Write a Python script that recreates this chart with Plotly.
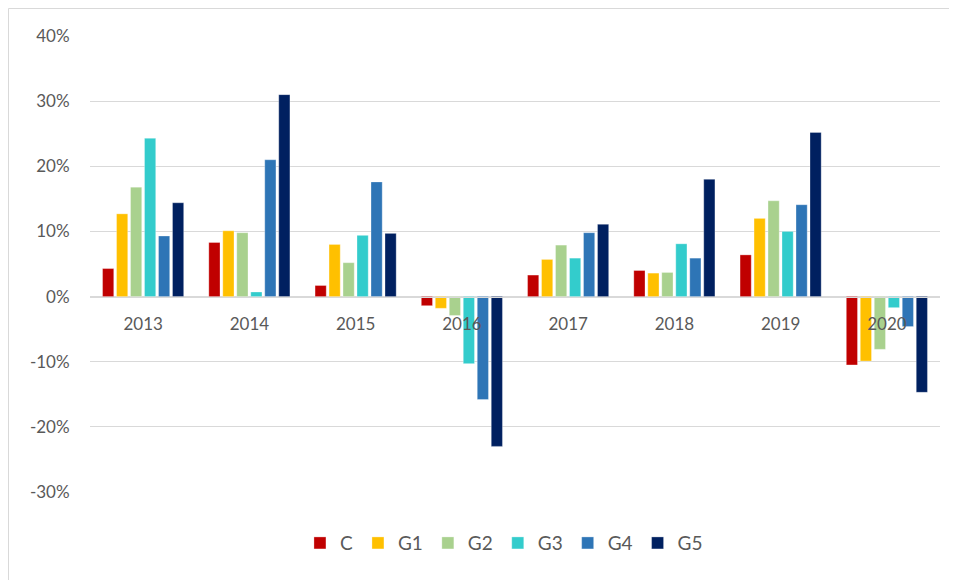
import plotly.graph_objects as go

years = ["2013", "2014", "2015", "2016", "2017", "2018", "2019", "2020"]
series_names = ["C", "G1", "G2", "G3", "G4", "G5"]
C  = [4.3, 8.3, 1.7, -1.4, 3.3, 4.0, 6.4, -10.5]
G1 = [12.7, 10.1, 8.0, -1.8, 5.7, 3.6, 12.0, -9.9]
G2 = [16.8, 9.8, 5.2, -2.9, 7.9, 3.7, 14.7, -8.1]
G3 = [24.3, 0.7, 9.4, -10.3, 5.9, 8.1, 10.0, -1.7]
G4 = [9.3, 21.0, 17.6, -15.8, 9.8, 5.9, 14.1, -4.6]
G5 = [14.4, 31.0, 9.7, -23.0, 11.1, 18.0, 25.2, -14.7]
values = [C, G1, G2, G3, G4, G5]
colors = ["#C00000", "#FFC000", "#A9D18E", "#33CCCC", "#2E75B6", "#002060"]
tick_vals = [-30, -20, -10, 0, 10, 20, 30, 40]
tick_text = ["-30%", "-20%", "-10%", "0%", "10%", "20%", "30%", "40%"]

fig = go.Figure()
for name, vals, col in zip(series_names, values, colors):
    fig.add_trace(go.Bar(x=years, y=vals, name=name, marker_color=col,
                         marker_line=dict(color="rgba(255,255,255,0.6)", width=0.5)))

W, H = 949, 572
L, R, T, B = 82, 17, 28, 88
pw, ph = W - L - R, H - T - B
ymin, ymax = -30, 40
fig.update_layout(
    width=W, height=H,
    margin=dict(l=L, r=R, t=T, b=B, autoexpand=False),
    paper_bgcolor="white", plot_bgcolor="white",
    barmode="group", bargap=0.21, bargroupgap=0.2,
    font=dict(family="Lato, 'Open Sans', sans-serif", size=16, color="#595959"),
    showlegend=True,
    legend=dict(orientation="h", x=0.487, xanchor="center", y=-0.112, yanchor="middle",
                font=dict(size=19, color="#595959"), itemwidth=30,
                traceorder="normal"),
    xaxis=dict(type="category", anchor="free", position=(0 - ymin) / (ymax - ymin),
               showline=True, linecolor="#D9D9D9", linewidth=1,
               ticks="outside", ticklen=12, tickcolor="rgba(0,0,0,0)",
               showgrid=False, tickfont=dict(size=17, color="#595959")),
    yaxis=dict(range=[ymin, ymax], tickvals=tick_vals, ticktext=tick_text,
               showgrid=True, gridcolor="#D9D9D9", gridwidth=1.3,
               zeroline=False, showline=False,
               ticks="outside", ticklen=16, tickcolor="rgba(0,0,0,0)",
               tickfont=dict(size=17, color="#595959")),
    shapes=[dict(type="rect", xref="paper", yref="paper",
                 x0=(-L + 0.5) / pw, x1=1 + (R + 5) / pw,
                 y0=-(B + 5) / ph, y1=1 + (T - 0.5) / ph,
                 line=dict(color="#D9D9D9", width=1), fillcolor="rgba(0,0,0,0)")]
)

fig.write_html("out.html")
